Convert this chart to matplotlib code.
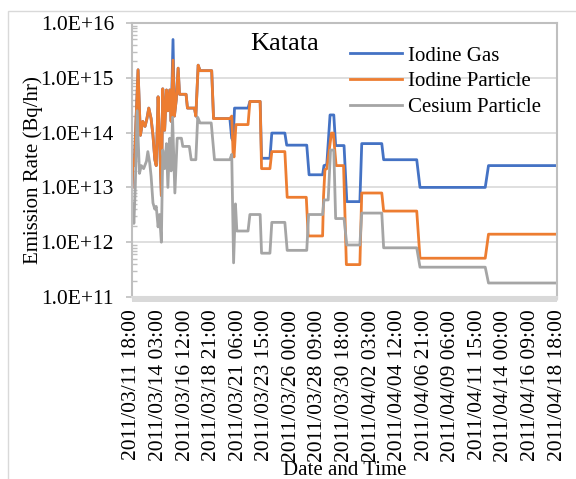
import numpy as np
import matplotlib
matplotlib.use('Agg')
import matplotlib.pyplot as plt
import matplotlib.dates as mdates
from matplotlib.ticker import FixedLocator, FuncFormatter, LogLocator, NullFormatter
from matplotlib.patches import Rectangle

plt.rcParams['font.family'] = ['Liberation Serif', 'DejaVu Serif']
plt.rcParams['font.size'] = 15

start = np.datetime64('2011-03-11T18:00')

# hours after start / emission rate (Bq/hr)
gas_hr = [0, 2, 5, 9, 13, 18, 23, 28, 32, 36, 41, 45, 49, 52, 56, 59, 63, 66, 70, 74,
          77, 81, 84, 88, 91, 95, 99, 102, 116, 119, 134, 137, 142, 146, 171, 175, 210,
          214, 217, 220, 249, 253, 275, 278, 296, 300, 328, 332, 375, 380, 409, 412, 418,
          425, 433, 437, 455, 461, 489, 493, 536, 540, 611, 618, 758, 765, 912]
gas_val = [1.0e13, 3.2e13, 2.5e13, 2.0e14, 1.4e15, 8.9e13, 1.6e14, 1.3e14, 1.8e14, 2.8e14,
           1.8e14, 8.9e13, 3.2e13, 2.5e13, 4.5e14, 7.9e13, 7.1e12, 6.3e14, 1.1e14, 6.0e14,
           2.5e14, 6.0e14, 1.6e14, 5.0e15, 2.0e14, 4.0e14, 1.5e15, 5.0e14, 5.0e14, 2.8e14,
           2.8e14, 2.0e14, 1.7e15, 1.35e15, 1.35e15, 1.8e14, 1.8e14,
           7.9e13, 7.1e13, 2.8e14, 2.8e14, 3.7e14, 3.7e14, 3.4e13, 3.4e13, 9.8e13, 9.8e13,
           5.9e13, 5.9e13, 1.7e13, 1.7e13, 2.5e13, 2.6e13, 2.1e14, 2.1e14, 5.8e13, 5.8e13,
           5.5e12, 5.5e12, 6.3e13, 6.3e13, 3.2e13, 3.2e13, 1.0e13, 1.0e13, 2.5e13, 2.5e13]

part_hr = [0, 2, 5, 9, 13, 18, 23, 28, 32, 36, 41, 45, 49, 52, 56, 59, 63, 66, 70, 74,
           77, 81, 84, 88, 91, 95, 99, 102, 116, 119, 134, 137, 142, 146, 171, 175, 210,
           214, 217, 219, 223, 249, 253, 275, 278, 296, 300, 328, 333, 374, 378, 409, 411,
           414, 418, 428, 432, 438, 454, 460, 489, 493, 536, 540, 611, 618, 758, 765, 912]
part_val = [1.0e13, 3.2e13, 2.5e13, 2.0e14, 1.4e15, 8.9e13, 1.6e14, 1.3e14, 1.8e14, 2.8e14,
            1.8e14, 8.9e13, 3.2e13, 2.5e13, 4.5e14, 7.9e13, 7.1e12, 6.3e14, 1.1e14, 6.0e14,
            2.5e14, 6.0e14, 1.6e14, 2.1e15, 2.0e14, 4.0e14, 1.5e15, 5.0e14, 5.0e14, 2.8e14,
            2.8e14, 2.0e14, 1.7e15, 1.35e15, 1.35e15, 1.8e14, 1.8e14, 2.0e14, 4.0e13, 3.6e13,
            1.4e14, 1.4e14, 3.7e14, 3.7e14, 2.2e13, 2.2e13, 4.5e13, 4.5e13, 6.6e12, 6.6e12,
            1.3e12, 1.3e12, 6.8e12, 2.1e13, 2.2e13, 9.8e13, 9.8e13, 2.5e13, 2.5e13, 3.9e11,
            3.9e11, 7.9e12, 7.9e12, 3.7e12, 3.7e12, 5.1e11, 5.1e11, 1.4e12, 1.4e12]

cs_hr = [0, 2, 4, 7, 11, 16, 20, 25, 31, 34, 38, 41, 45, 49, 52, 56, 59, 63, 66, 70,
         74, 77, 81, 84, 87, 92, 97, 106, 109, 123, 127, 137, 141, 146, 170, 177, 210,
         214, 218, 222, 225, 249, 253, 275, 278, 296, 300, 328, 333, 375, 379, 409, 412,
         421, 426, 433, 437, 455, 461, 489, 493, 536, 540, 611, 618, 758, 765, 912]
cs_val = [2.9e12, 5.0e12, 2.2e12, 1.0e13, 2.5e14, 1.8e13, 2.5e13, 2.2e13, 3.0e13, 4.5e13,
          2.8e13, 1.6e13, 5.2e12, 4.0e12, 4.5e12, 1.9e12, 3.2e12, 1.0e12, 4.8e13, 2.2e13,
          6.3e13, 1.0e13, 7.9e13, 2.0e13, 1.9e14, 7.9e12, 7.9e13, 7.9e13, 5.6e13, 5.6e13,
          3.2e13, 3.2e13, 1.9e14, 1.5e14, 1.5e14, 3.2e13, 3.2e13, 4.0e13, 4.2e11, 5.0e12,
          1.6e12, 1.6e12, 3.2e12, 3.2e12, 6.3e11, 6.3e11, 2.3e12, 2.3e12, 7.1e11, 7.1e11,
          3.2e12, 3.2e12, 5.9e12, 5.9e12, 4.8e13, 4.8e13, 2.7e12, 2.7e12, 8.9e11, 8.9e11,
          3.4e12, 3.4e12, 7.9e11, 7.9e11, 3.5e11, 3.5e11, 1.8e11, 1.8e11]

labels = ['Iodine Gas', 'Iodine Particle', 'Cesium Particle']
colors = ['#4472C4', '#ED7D31', '#A5A5A5']


def to_time(hrs):
    return start + np.array(hrs).astype('timedelta64[h]')


fig = plt.figure(figsize=(5.76, 4.79), dpi=100)
# outer chart frame
fig.add_artist(Rectangle((8/576, -0.05), 1.1, 1 - 11/479 + 0.05, transform=fig.transFigure,
                         fill=False, ec='#d9d9d9', lw=1.0))
ax = fig.add_axes([132/576, 1 - 297/479, 425/576, 274/479])

series = [(gas_hr, gas_val), (part_hr, part_val), (cs_hr, cs_val)]
for (h, v), lab, c in zip(series, labels, colors):
    ax.plot(to_time(h), v, color=c, lw=2.0, label=lab, solid_joinstyle='round')

ax.set_yscale('log')
ax.set_ylim(1e11, 1e16)
ax.set_xlim(to_time([0])[0], to_time([912])[0])

ax.yaxis.set_major_locator(FixedLocator([1e11, 1e12, 1e13, 1e14, 1e15, 1e16]))
ax.yaxis.set_major_formatter(FuncFormatter(lambda v, p: '1.0E+%d' % round(np.log10(v))))
ax.yaxis.set_minor_locator(LogLocator(base=10, subs=np.arange(2, 10)))
ax.yaxis.set_minor_formatter(NullFormatter())
ax.tick_params(axis='y', which='major', direction='out', length=4.5, width=1.2,
               color='#bfbfbf', pad=8.5, labelsize=15.5)
ax.tick_params(axis='y', which='minor', direction='in', length=3.5, width=1.0, color='#bfbfbf')

ax.set_xticks(to_time(np.arange(0, 913, 57)))
ax.xaxis.set_major_formatter(mdates.DateFormatter('%Y/%m/%d %H:%M'))
ax.tick_params(axis='x', which='major', direction='out', length=2, color='#d9d9d9',
               labelrotation=90, pad=7, labelsize=15.5)
ax.xaxis.set_minor_locator(FixedLocator([]))

ax.grid(True, axis='y', which='major', color='#d9d9d9', lw=1.2)
ax.set_axisbelow(True)
for s in ax.spines.values():
    s.set_color('#bfbfbf')
    s.set_linewidth(1.5)
ax.spines['bottom'].set_color('#d9d9d9')
ax.add_patch(Rectangle((0, -5/274), 1, 5/274, transform=ax.transAxes, clip_on=False,
                       fc='#d9d9d9', ec='none'))

ax.text(0.358, 0.925, 'Katata', transform=ax.transAxes, ha='center', va='center', fontsize=19)
ax.legend(loc='upper left', bbox_to_anchor=((350 - 132)/425, 1 - (46 - 23)/274),
          frameon=False, borderpad=0, borderaxespad=0, handlelength=2.5,
          handletextpad=0.3, labelspacing=0.3)

ax.set_ylabel('Emission Rate (Bq/hr)')
ax.yaxis.set_label_coords(-0.21, 0.464)
ax.set_xlabel('Date and Time')
ax.xaxis.set_label_coords(0.5, -0.60)

fig.savefig('out.png', dpi=100)
